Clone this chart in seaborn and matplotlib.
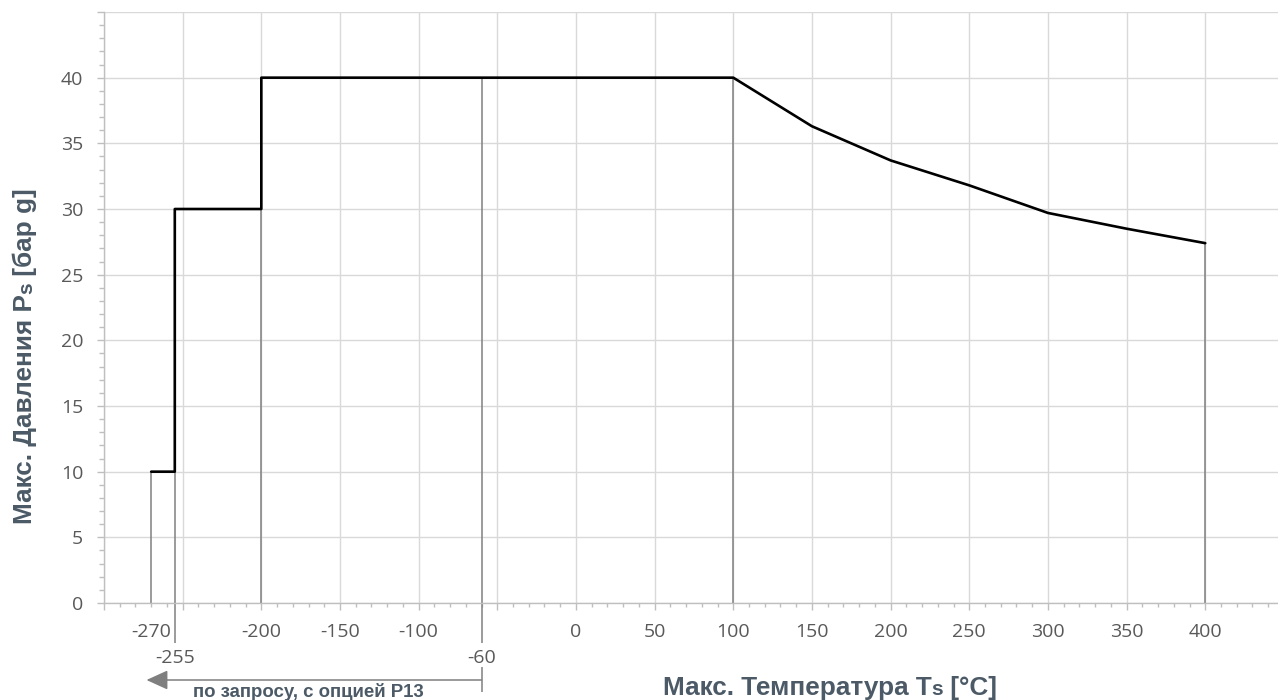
import matplotlib
matplotlib.use("Agg")
import matplotlib.pyplot as plt
import seaborn as sns
from matplotlib.ticker import MultipleLocator

# ---- data ----
temps = [-270, -255, -255, -200, -200, 100, 150, 200, 250, 300, 350, 400]
pressures = [10, 10, 30, 30, 40, 40, 36.3, 33.7, 31.8, 29.7, 28.5, 27.4]
drop_x = [-270, -255, -200, -60, 100, 400]
drop_top = [10, 10, 30, 40, 40, 27.4]
row1_ticks = [-270, -200, -150, -100, 0, 50, 100, 150, 200, 250, 300, 350, 400]
row2_ticks = [-255, -60]
y_ticks = [0, 5, 10, 15, 20, 25, 30, 35, 40, 45]
y_labels = ["0", "5", "10", "15", "20", "25", "30", "35", "40", ""]
x_title = [("Макс. Температура T", 1.0), ("s", 0.8), (" [°C]", 1.0)]
y_title = [("Макс. Давления P", 1.0), ("s", 0.8), (" [бар g]", 1.0)]
note_text = "по запросу, с опцией P13"
option_from, option_to = -60, -273

sns.set_theme(style="white")
plt.rcParams["font.family"] = ["Open Sans", "DejaVu Sans"]

W, H = 1278, 700
LBL = "#4b5a66"
TICK = "#595959"
GRID = "#d9d9d9"
SPINE = "#bfbfbf"
DROP = "#808080"

fig = plt.figure(figsize=(W / 100, H / 100), dpi=100)
ax_left, ax_top, ax_bot = 104, 12, 603
ax = fig.add_axes([ax_left / W, 1 - ax_bot / H, (W - ax_left) / W, (ax_bot - ax_top) / H])
px_per_unit = 1.5732
ax.set_xlim(-300, -300 + (W - ax_left) / px_per_unit)
ax.set_ylim(0, 45)
ypx = (ax_bot - ax_top) / 45.0

ax.xaxis.set_major_locator(MultipleLocator(50))
ax.xaxis.set_minor_locator(MultipleLocator(10))
ax.set_yticks(y_ticks, labels=y_labels)
ax.yaxis.set_minor_locator(MultipleLocator(1))
ax.grid(which="major", color=GRID, lw=1.0)
ax.set_axisbelow(True)
for s in ["top", "right"]:
    ax.spines[s].set_visible(False)
for s in ["left", "bottom"]:
    ax.spines[s].set_color(SPINE)
    ax.spines[s].set_linewidth(1.0)
ax.tick_params(axis="x", which="major", direction="out", length=5, width=1, color=SPINE,
               bottom=True, labelbottom=False)
ax.tick_params(axis="x", which="minor", direction="out", length=3, width=1, color=SPINE, bottom=True)
ax.tick_params(axis="y", which="major", direction="out", length=5, width=1, color=SPINE,
               left=True, labelsize=14, labelcolor=TICK, pad=10)
ax.tick_params(axis="y", which="minor", direction="out", length=3.5, width=1, color=SPINE, left=True)

# drop lines
ax.vlines(drop_x, 0, drop_top, colors=DROP, lw=1.1, zorder=2)
ext = 40 / ypx
ax.vlines([-255, -60], -ext, 0, colors=DROP, lw=1.1, clip_on=False, zorder=2)
ax.vlines([-60], -(667 - ax_bot) / ypx, -(692 - ax_bot) / ypx, colors=DROP, lw=1.1, clip_on=False)

# main curve
sns.lineplot(x=temps, y=pressures, sort=False, estimator=None, color="black", lw=1.9, ax=ax, zorder=3)

# x tick labels
for v in row1_ticks:
    ax.annotate(str(v), xy=(v, 0), xycoords=("data", "axes fraction"), xytext=(0, -29 * 0.72),
                textcoords="offset points", ha="center", va="center", fontsize=14, color=TICK)
for v in row2_ticks:
    ax.annotate(str(v), xy=(v, 0), xycoords=("data", "axes fraction"), xytext=(0, -55 * 0.72),
                textcoords="offset points", ha="center", va="center", fontsize=14, color=TICK)

# arrow for option
yarrow = -(680 - ax_bot) / (ax_bot - ax_top)
ax.annotate("", xy=(option_to, yarrow), xycoords=("data", "axes fraction"),
            xytext=(option_from, yarrow), textcoords=("data", "axes fraction"),
            arrowprops=dict(arrowstyle="-|>,head_length=1.1,head_width=0.5", color="#7f7f7f",
                            lw=1.1, shrinkA=0, shrinkB=0), annotation_clip=False)
fig.text(308 / W, 1 - 697 / H, note_text, ha="center", va="baseline", fontsize=13.4,
         fontweight="bold", color=LBL, family=["Liberation Sans", "DejaVu Sans"])

# pieced titles
renderer = fig.canvas.get_renderer()


def pieced(pieces, cx, cy, size, rotation=0):
    texts = []
    for s, scale in pieces:
        t = fig.text(0, 0, s, fontsize=size * scale, fontweight="bold", color=LBL,
                     family=["Liberation Sans", "DejaVu Sans"], ha="left", va="baseline",
                     rotation_mode="anchor")
        texts.append(t)
    widths = [t.get_window_extent(renderer).width for t in texts]
    start = -sum(widths) / 2
    for t, w in zip(texts, widths):
        if rotation == 0:
            t.set_position(((cx + start) / W, 1 - cy / H))
        else:
            t.set_rotation(90)
            t.set_position((cx / W, 1 - (cy - start) / H))
        start += w


pieced(x_title, 830, 695, 18.8)
pieced(y_title, 32, 356, 18.8, rotation=90)

fig.savefig("out.png", dpi=100)
